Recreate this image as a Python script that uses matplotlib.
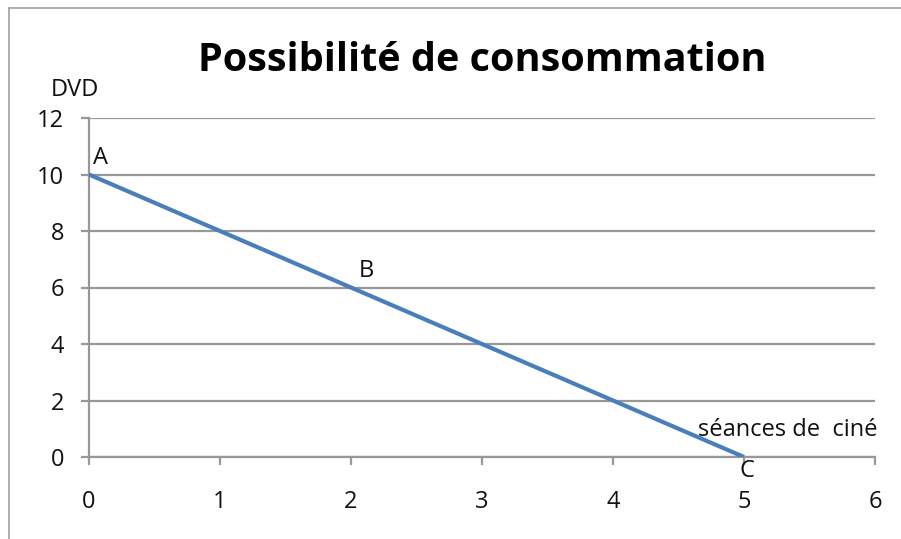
import matplotlib
matplotlib.use("Agg")
import matplotlib.pyplot as plt
from matplotlib.lines import Line2D

plt.rcParams['font.family'] = ['Open Sans', 'DejaVu Sans']

seances = [0, 2, 5]
dvd = [10, 6, 0]
point_labels = ["A", "B", "C"]
x_ticks = [0, 1, 2, 3, 4, 5, 6]
y_ticks = [0, 2, 4, 6, 8, 10, 12]
title = "Possibilité de consommation"
x_label = "séances de  ciné"
y_label = "DVD"

fig = plt.figure(figsize=(9.01, 5.39), dpi=100)
ax = fig.add_axes([89/901, 1-457/539, (875-89)/901, (457-118)/539])

grid_c = "#989898"
ax.plot(seances, dvd, color="#4a7ebb", lw=3, solid_capstyle="butt", zorder=3)

fs = 17

ax.set_xlim(0, 6)
ax.set_ylim(0, 12)
ax.set_xticks(x_ticks)
ax.set_yticks(y_ticks)
ax.yaxis.grid(True, color=grid_c, lw=1.6)
ax.set_axisbelow(True)
for s in ["top", "right"]:
    ax.spines[s].set_visible(False)
for s in ["left", "bottom"]:
    ax.spines[s].set_color(grid_c)
    ax.spines[s].set_linewidth(1.6)
ax.tick_params(axis="x", direction="out", length=6, width=1.6, color=grid_c,
               pad=18, labelsize=fs, labelcolor="#111111")
ax.tick_params(axis="y", direction="out", length=6, width=1.6, color=grid_c,
               pad=12, labelsize=fs, labelcolor="#111111")

ax.set_title(title, fontsize=28.5, fontweight="bold", pad=34)

offsets = {"A": (0.03, 10.6, "left"), "B": (2.12, 6.6, "center"), "C": (5.02, -0.5, "center")}
for lab in point_labels:
    xx, yy, ha = offsets[lab]
    ax.text(xx, yy, lab, fontsize=fs, ha=ha, va="center", clip_on=False, color="#111111")

ax.text(6.02, 0.95, x_label, fontsize=fs, ha="right", va="center", clip_on=False, color="#111111")
ax.text(-0.29, 13.0, y_label, fontsize=fs, ha="left", va="center", clip_on=False, color="#111111")

fig.add_artist(Line2D([9/901, 1], [1-8/539, 1-8/539], color="#a0a0a0", lw=1.2))
fig.add_artist(Line2D([9/901, 9/901], [0, 1-8/539], color="#a0a0a0", lw=1.2))

fig.savefig("out.png", dpi=100)
